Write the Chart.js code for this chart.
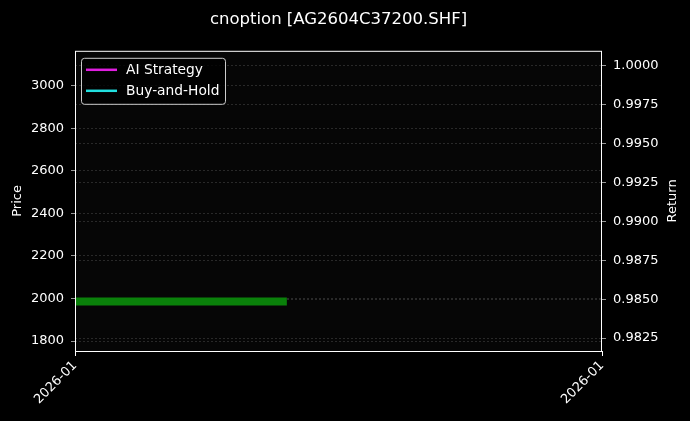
<!DOCTYPE html>
<html>
<head>
<meta charset="utf-8">
<script src="https://cdn.jsdelivr.net/npm/chart.js@4/dist/chart.umd.min.js"></script>
<style>
  html, body { margin: 0; padding: 0; background: #000; }
  #wrap { width: 690px; height: 421px; position: relative; }
</style>
</head>
<body>
<div id="wrap"><canvas id="chart"></canvas></div>
<script>
// --- data ---
const xTickPositions = [0, 1];
const xTickLabels = ['2026-01', '2026-01'];
const priceTicks = [1800, 2000, 2200, 2400, 2600, 2800, 3000];
const returnTicks = [0.9825, 0.9850, 0.9875, 0.9900, 0.9925, 0.9950, 0.9975, 1.0000];

// price band (green), x as fraction of the date range
const priceX = [0, 0.402];
const priceValues = [1986, 1986];

// strategy curves: nothing plotted in the reference, only legend entries
const aiStrategy = [];
const buyAndHold = [];

const FONT = "'DejaVu Sans', sans-serif";
Chart.defaults.font.family = FONT;
Chart.defaults.color = '#ffffff';

const GRID = 'rgba(140,140,140,0.45)';

const frameAndLegend = {
  id: 'frameAndLegend',
  beforeDraw(chart) {
    const { ctx, chartArea: a } = chart;
    ctx.save();
    ctx.fillStyle = '#000';
    ctx.fillRect(0, 0, chart.width, chart.height);
    ctx.fillStyle = '#060606';
    ctx.fillRect(a.left, a.top, a.right - a.left, a.bottom - a.top);
    ctx.restore();
  },
  afterDraw(chart) {
    const { ctx, chartArea: a } = chart;
    ctx.save();
    ctx.strokeStyle = '#ffffff';
    ctx.lineWidth = 1;
    ctx.strokeRect(a.left + 0.5, a.top + 0.5, a.right - a.left - 1, a.bottom - a.top);

    // right axis title, reading bottom to top like the left one
    ctx.save();
    ctx.translate(673, (a.top + a.bottom) / 2);
    ctx.rotate(-Math.PI / 2);
    ctx.font = '13px ' + FONT;
    ctx.fillStyle = '#ffffff';
    ctx.textAlign = 'center';
    ctx.textBaseline = 'middle';
    ctx.fillText('Return', 0, 0);
    ctx.restore();

    // legend box, top-left inside the axes
    const bx = a.left + 6, by = a.top + 7, bw = 144, bh = 46;
    ctx.fillStyle = 'rgba(0,0,0,0.8)';
    ctx.strokeStyle = '#cccccc';
    ctx.lineWidth = 1;
    ctx.beginPath();
    ctx.roundRect(bx + 0.5, by + 0.5, bw, bh, 3);
    ctx.fill();
    ctx.stroke();

    const items = chart.data.datasets.filter(d => d.inLegend);
    ctx.font = '13.8px ' + FONT;
    ctx.textBaseline = 'middle';
    items.forEach((d, i) => {
      const y = by + 12 + i * 21;
      ctx.strokeStyle = d.borderColor;
      ctx.lineWidth = 2.5;
      ctx.beginPath();
      ctx.moveTo(bx + 5, y);
      ctx.lineTo(bx + 36, y);
      ctx.stroke();
      ctx.fillStyle = '#ffffff';
      ctx.fillText(d.label, bx + 45, y + 0.5);
    });
    ctx.restore();
  }
};

new Chart(document.getElementById('chart'), {
  type: 'line',
  data: {
    datasets: [
      {
        label: 'Price',
        data: priceX.map((x, i) => ({ x, y: priceValues[i] })),
        yAxisID: 'y',
        borderColor: '#0a800a',
        borderWidth: 8,
        borderCapStyle: 'butt',
        pointRadius: 0,
        inLegend: false
      },
      {
        label: 'AI Strategy',
        data: aiStrategy,
        yAxisID: 'y1',
        borderColor: '#e01ee0',
        borderWidth: 2,
        pointRadius: 0,
        inLegend: true
      },
      {
        label: 'Buy-and-Hold',
        data: buyAndHold,
        yAxisID: 'y1',
        borderColor: '#22e0e0',
        borderWidth: 2,
        pointRadius: 0,
        inLegend: true
      }
    ]
  },
  options: {
    responsive: true,
    maintainAspectRatio: false,
    animation: false,
    layout: { padding: 0 },
    plugins: {
      legend: { display: false },
      tooltip: { enabled: false },
      title: {
        display: true,
        fullSize: false,
        text: 'cnoption [AG2604C37200.SHF]',
        color: '#ffffff',
        font: { size: 16.5, weight: 'normal' },
        padding: { top: 10, bottom: 21 }
      }
    },
    scales: {
      x: {
        type: 'linear',
        min: 0,
        max: 1,
        afterBuildTicks: s => { s.ticks = xTickPositions.map(v => ({ value: v })); },
        afterFit: s => { s.height = 70; },
        border: { display: false },
        grid: { drawOnChartArea: false, drawTicks: true, tickLength: 5, tickColor: '#ffffff' },
        ticks: {
          color: '#ffffff',
          font: { size: 13 },
          minRotation: 45,
          maxRotation: 45,
          padding: 2,
          callback: (v, i) => xTickLabels[i]
        }
      },
      y: {
        position: 'left',
        min: 1753,
        max: 3165,
        afterBuildTicks: s => { s.ticks = priceTicks.map(v => ({ value: v })); },
        afterFit: s => { s.width = 75; },
        border: { display: false, dash: [2, 2] },
        grid: {
          color: GRID,
          lineWidth: 0.6,
          tickColor: '#ffffff',
          tickLength: 4,
          tickBorderDash: []
        },
        ticks: { color: '#ffffff', font: { size: 13 }, padding: 7, callback: v => String(v) },
        title: { display: true, text: 'Price', color: '#ffffff', font: { size: 13 }, padding: { top: 10, bottom: 0 } }
      },
      y1: {
        position: 'right',
        min: 0.981665,
        max: 1.000965,
        afterBuildTicks: s => { s.ticks = returnTicks.map(v => ({ value: v })); },
        afterFit: s => { s.width = 88; },
        border: { display: false, dash: [2, 2] },
        grid: {
          color: GRID,
          lineWidth: 0.6,
          tickColor: '#ffffff',
          tickLength: 4,
          tickBorderDash: []
        },
        ticks: {
          color: '#ffffff',
          font: { size: 13 },
          padding: 7,
          callback: v => v.toFixed(4)
        }
      }
    }
  },
  plugins: [frameAndLegend]
});
</script>
</body>
</html>
